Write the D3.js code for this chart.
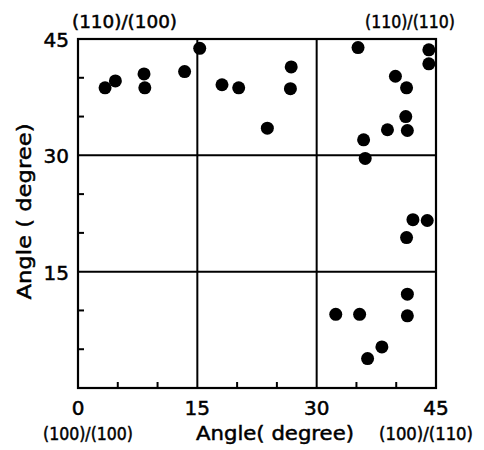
<!DOCTYPE html>
<html>
<head>
<meta charset="utf-8">
<script src="https://cdn.jsdelivr.net/npm/d3@7"></script>
<style>
  body { margin: 0; background: #fff; }
  text { font-family: "DejaVu Sans", sans-serif; fill: #000; stroke: #000; stroke-width: 0.5px; }
</style>
</head>
<body>
<div id="chart"></div>
<script>
// Data (x angle, y angle, in degrees)
const xVals = [3.4, 4.7, 8.3, 8.4, 13.4, 15.3, 18.1, 20.2, 23.8, 26.7, 26.8,
               35.2, 44.1, 44.1, 39.9, 41.3, 41.2, 41.4, 38.9, 35.9, 36.1,
               42.1, 43.9, 41.3, 41.4, 32.4, 35.4, 41.4, 38.2, 36.4];
const yVals = [38.7, 39.6, 40.5, 38.7, 40.8, 43.8, 39.1, 38.7, 33.5, 38.6, 41.4,
               43.9, 43.6, 41.8, 40.2, 38.7, 35.0, 33.2, 33.3, 32.0, 29.6,
               21.7, 21.6, 19.4, 12.1, 9.5, 9.5, 9.3, 5.3, 3.8];

const labelTicks = [0, 15, 30, 45];
const gridTicks = [15, 30];
const minorTicks = [5, 10, 20, 25, 35, 40];

const W = 484, H = 450;
const margin = { top: 39, right: 48, bottom: 62, left: 78 };

const svg = d3.select("#chart").append("svg")
    .attr("width", W)
    .attr("height", H);

const x = d3.scaleLinear().domain([0, 45]).range([margin.left, W - margin.right]);
const y = d3.scaleLinear().domain([0, 45]).range([H - margin.bottom, margin.top]);

// grid lines at 15 and 30
svg.selectAll(".vgrid")
    .data(gridTicks)
    .enter().append("line")
    .attr("x1", d => x(d)).attr("x2", d => x(d))
    .attr("y1", y(0)).attr("y2", y(45))
    .attr("stroke", "#000").attr("stroke-width", 2);

svg.selectAll(".hgrid")
    .data(gridTicks)
    .enter().append("line")
    .attr("y1", d => y(d)).attr("y2", d => y(d))
    .attr("x1", x(0)).attr("x2", x(45))
    .attr("stroke", "#000").attr("stroke-width", 2);

// small inward ticks
svg.selectAll(".xtick")
    .data(minorTicks)
    .enter().append("line")
    .attr("x1", d => x(d)).attr("x2", d => x(d))
    .attr("y1", y(0)).attr("y2", y(0) - 6)
    .attr("stroke", "#000").attr("stroke-width", 2);

svg.selectAll(".ytick")
    .data(minorTicks)
    .enter().append("line")
    .attr("y1", d => y(d)).attr("y2", d => y(d))
    .attr("x1", x(0)).attr("x2", x(0) + 6)
    .attr("stroke", "#000").attr("stroke-width", 2);

// frame
svg.append("rect")
    .attr("x", x(0)).attr("y", y(45))
    .attr("width", x(45) - x(0))
    .attr("height", y(0) - y(45))
    .attr("fill", "none")
    .attr("stroke", "#000")
    .attr("stroke-width", 2.2);

// tick labels
svg.selectAll(".xlab")
    .data(labelTicks)
    .enter().append("text")
    .attr("x", d => x(d))
    .attr("y", y(0) + 27)
    .attr("text-anchor", "middle")
    .style("font-size", "20px")
    .text(d => d);

svg.selectAll(".ylab")
    .data(labelTicks.slice(1))
    .enter().append("text")
    .attr("x", x(0) - 9)
    .attr("y", d => y(d) + 8)
    .attr("text-anchor", "end")
    .style("font-size", "20px")
    .text(d => d);

// plane labels at the corners
const cornerLabels = [
  { t: "(110)/(100)", xv: 0, yv: 45, dx: -6, dy: -11, len: 105 },
  { t: "(110)/(110)", xv: 45, yv: 45, dx: -71, dy: -11, len: 90 },
  { t: "(100)/(100)", xv: 0, yv: 0, dx: -35, dy: 52, len: 90 },
  { t: "(100)/(110)", xv: 45, yv: 0, dx: -57, dy: 52, len: 94 }
];

svg.selectAll(".corner")
    .data(cornerLabels)
    .enter().append("text")
    .attr("x", d => x(d.xv) + d.dx)
    .attr("y", d => y(d.yv) + d.dy)
    .attr("textLength", d => d.len)
    .attr("lengthAdjust", "spacingAndGlyphs")
    .style("font-size", "17px")
    .text(d => d.t);

// axis titles
svg.append("text")
    .attr("x", (x(15) + x(30)) / 2 + 18)
    .attr("y", y(0) + 52)
    .attr("text-anchor", "middle")
    .attr("textLength", 158)
    .attr("lengthAdjust", "spacingAndGlyphs")
    .style("font-size", "20px")
    .text("Angle( degree)");

svg.append("text")
    .attr("transform", "translate(31," + (y(22.5) - 2) + ") rotate(-90)")
    .attr("text-anchor", "middle")
    .attr("textLength", 176)
    .attr("lengthAdjust", "spacingAndGlyphs")
    .style("font-size", "20px")
    .text("Angle ( degree)");

// data points
svg.selectAll(".dot")
    .data(xVals)
    .enter().append("circle")
    .attr("cx", d => x(d))
    .attr("cy", (d, i) => y(yVals[i]))
    .attr("r", 6.5)
    .attr("fill", "#000");
</script>
</body>
</html>
